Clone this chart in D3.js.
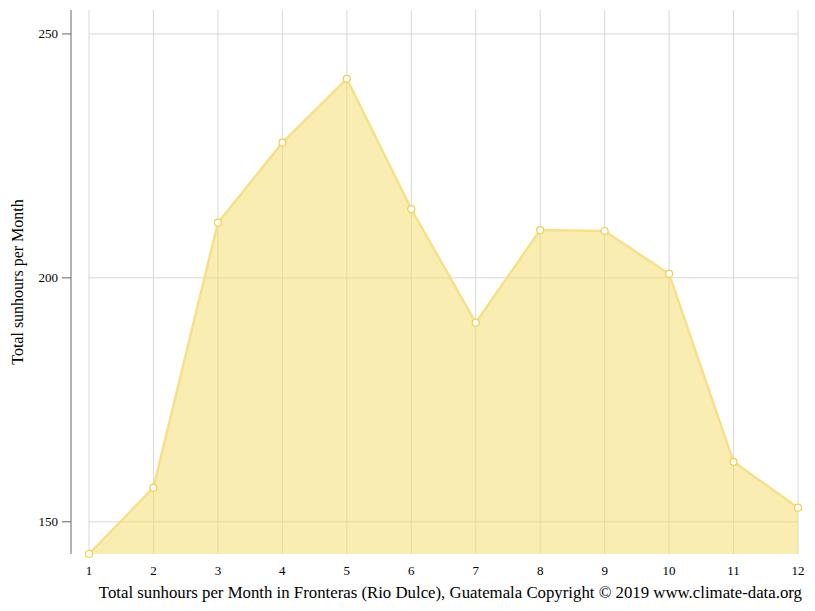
<!DOCTYPE html>
<html><head><meta charset="utf-8">
<script src="https://cdn.jsdelivr.net/npm/d3@7"></script>
<style>body{margin:0;background:#fff}svg{font-family:"Liberation Serif","Times New Roman",serif}</style>
</head><body>
<svg id="chart" width="815" height="611"></svg>
<script>
var months = [1,2,3,4,5,6,7,8,9,10,11,12]
var sunhours = [143.4,157.0,211.3,227.7,240.8,214.1,190.8,209.8,209.6,200.8,162.3,152.9]
var yTicks = [150,200,250]

var svg = d3.select("#chart")
var x = d3.scaleLinear().domain([1,12]).range([89,798])
var y = d3.scaleLinear().domain([143.4,254.9]).range([554,10])

// grid
svg.selectAll(".vg").data(months).enter().append("line")
    .attr("x1", d => x(d)).attr("x2", d => x(d))
    .attr("y1", 10).attr("y2", 554)
    .attr("stroke", "#d8d8d8")
svg.selectAll(".hg").data(yTicks).enter().append("line")
    .attr("x1", 89).attr("x2", 798)
    .attr("y1", d => y(d)).attr("y2", d => y(d))
    .attr("stroke", "#d8d8d8")

var data = months.map((m, i) => [m, sunhours[i]])

svg.append("path").datum(data)
    .attr("d", d3.area().x(d => x(d[0])).y0(554).y1(d => y(d[1])))
    .attr("fill", "rgba(245,220,100,0.5)")
svg.append("path").datum(data)
    .attr("d", d3.line().x(d => x(d[0])).y(d => y(d[1])))
    .attr("fill", "none").attr("stroke", "#f7e08a").attr("stroke-width", 2.5)
svg.selectAll(".pt").data(data).enter().append("circle")
    .attr("cx", d => x(d[0])).attr("cy", d => y(d[1])).attr("r", 3.5)
    .attr("fill", "#fff").attr("stroke", "#f2cf4a").attr("stroke-width", 1.2)

// y axis
svg.append("line").attr("x1", 71).attr("x2", 71).attr("y1", 10).attr("y2", 554)
    .attr("stroke", "#666")
svg.selectAll(".yt").data(yTicks).enter().append("line")
    .attr("x1", 62).attr("x2", 71).attr("y1", d => y(d)).attr("y2", d => y(d))
    .attr("stroke", "#666")
svg.selectAll(".yl").data(yTicks).enter().append("text")
    .attr("x", 58).attr("y", d => y(d) + 4).attr("text-anchor", "end")
    .attr("font-size", 13).text(d => d)

svg.selectAll(".xl").data(months).enter().append("text")
    .attr("x", d => x(d)).attr("y", 575).attr("text-anchor", "middle")
    .attr("font-size", 13).text(d => d)

svg.append("text").attr("transform", "translate(23,282) rotate(-90)")
    .attr("text-anchor", "middle").attr("font-size", 16)
    .text("Total sunhours per Month")
svg.append("text").attr("x", 802).attr("y", 598).attr("text-anchor", "end")
    .attr("font-size", 16.8)
    .text("Total sunhours per Month in Fronteras (Rio Dulce), Guatemala Copyright © 2019 www.climate-data.org")
</script>
</body></html>
